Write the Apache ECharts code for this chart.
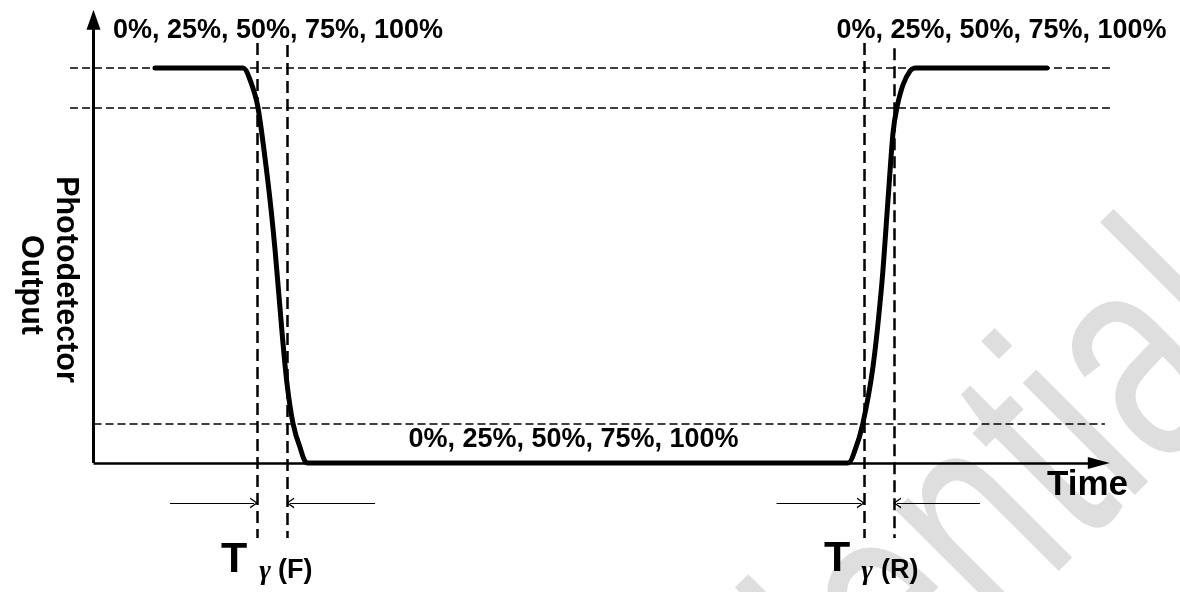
<!DOCTYPE html>
<html>
<head>
<meta charset="utf-8">
<script src="https://cdn.jsdelivr.net/npm/echarts@6/dist/echarts.min.js"></script>
<style>
  html, body { margin: 0; padding: 0; background: #ffffff; }
  #chart { width: 1180px; height: 592px; }
</style>
</head>
<body>
<div id="chart"></div>
<script>
// photodetector response, time in arbitrary units, output normalised 0..1
const signalTime = [6.05, 14.71, 15.4, 16.18, 17.17, 17.86, 18.55, 19.04, 19.63, 20.31, 21.1,
  74.22, 74.88, 75.69, 76.68, 77.56, 78.16, 78.65, 79.04, 79.63, 80.32, 80.81, 93.8];
const signalLevel = [1, 1, 0.97, 0.9, 0.71, 0.54, 0.33, 0.2, 0.1, 0.04, 0,
  0, 0.03, 0.1, 0.243, 0.456, 0.666, 0.835, 0.9, 0.957, 0.992, 1, 1];

// 100%, 90%, 10% reference levels
const levelValues = [1.0, 0.9, 0.1];
const levelStart = [-2.31, -2.31, 0];
const levelEnd = [100, 100, 99.5];

// 10% / 90% crossing marks of the falling and rising edges
const edgeTimes = [16.08, 19.04, 75.8, 78.75];
const edgeTop = [1.063, 1.058, 1.063, 1.05];
const edgeBottom = -0.19;

// span arrows pointing at the edge marks
const spanLevel = -0.101;
const spanFrom = [7.53, 27.7, 67.2, 87.2];
const spanTo = [15.8, 19.34, 75.5, 79.05];

const axisTop = 1.122;
const axisRight = 98.9;

const levelLabel = "0%, 25%, 50%, 75%, 100%";

const signalData = signalTime.map((t, i) => [t, signalLevel[i]]);
const chevron = "path://M0,10 L5,0 L10,10 L8.6,10 L5,2.8 L1.4,10 Z";
const font = "'Liberation Sans', Arial, Helvetica, sans-serif";
const gammaFont = "italic bold 28px 'Liberation Serif', 'DejaVu Serif', serif";

const chart = echarts.init(document.getElementById("chart"));

function marks(name, lines, lineStyle, symbol, symbolSize) {
  return {
    name,
    type: "line",
    data: [],
    silent: true,
    markLine: {
      silent: true,
      animation: false,
      symbol,
      symbolSize,
      label: { show: false },
      lineStyle,
      emphasis: { disabled: true },
      data: lines,
    },
  };
}

const textStyle = (size, extra) => ({
  fill: "#000",
  font: `bold ${size}px ${font}`,
  ...extra,
});

chart.setOption({
  animation: false,
  grid: { left: 63, right: 70, top: 8.75, bottom: 10.5 },
  xAxis: { type: "value", min: -3, max: 100, show: false },
  yAxis: { type: "value", min: -0.3, max: 1.15, show: false },
  graphic: [
    {
      type: "text",
      z: 0,
      silent: true,
      x: 1325,
      y: 400,
      rotation: Math.PI / 4,
      scaleX: 0.72,
      style: {
        text: "Confidential",
        fill: "#dedede",
        font: `300px ${font}`,
        textAlign: "right",
        textVerticalAlign: "bottom",
      },
    },
    { type: "text", z: 100, x: 278, y: 31, style: textStyle(27, { text: levelLabel, textAlign: "center", textVerticalAlign: "middle" }) },
    { type: "text", z: 100, x: 1001.5, y: 31, style: textStyle(27, { text: levelLabel, textAlign: "center", textVerticalAlign: "middle" }) },
    { type: "text", z: 100, x: 573.5, y: 440, style: textStyle(27, { text: levelLabel, textAlign: "center", textVerticalAlign: "middle" }) },
    { type: "text", z: 100, x: 1047, y: 485, style: textStyle(35, { text: "Time", textAlign: "left", textVerticalAlign: "middle" }) },
    {
      type: "text", z: 100, x: 65.5, y: 279.5, rotation: -Math.PI / 2,
      style: textStyle(30.5, { text: "Photodetector", textAlign: "center", textVerticalAlign: "middle" }),
    },
    {
      type: "text", z: 100, x: 30, y: 285, rotation: -Math.PI / 2,
      style: textStyle(30.5, { text: "Output", textAlign: "center", textVerticalAlign: "middle" }),
    },
    { type: "text", z: 100, x: 221, y: 560, style: textStyle(43, { text: "T", textAlign: "left", textVerticalAlign: "middle" }) },
    {
      type: "text", z: 100, x: 265, y: 572,
      style: { text: "γ", fill: "#000", font: gammaFont, textAlign: "center", textVerticalAlign: "middle" },
    },
    { type: "text", z: 100, x: 278, y: 571, style: textStyle(27, { text: "(F)", textAlign: "left", textVerticalAlign: "middle" }) },
    { type: "text", z: 100, x: 824, y: 559, style: textStyle(43, { text: "T", textAlign: "left", textVerticalAlign: "middle" }) },
    {
      type: "text", z: 100, x: 867, y: 572,
      style: { text: "γ", fill: "#000", font: gammaFont, textAlign: "center", textVerticalAlign: "middle" },
    },
    { type: "text", z: 100, x: 881, y: 571, style: textStyle(27, { text: "(R)", textAlign: "left", textVerticalAlign: "middle" }) },
  ],
  series: [
    marks(
      "levels",
      levelValues.map((v, i) => [{ coord: [levelStart[i], v] }, { coord: [levelEnd[i], v] }]),
      { color: "#000", width: 1.5, type: [8, 4] },
      "none",
      0
    ),
    marks(
      "edges",
      edgeTimes.map((t, i) => [{ coord: [t, edgeTop[i]] }, { coord: [t, edgeBottom] }]),
      { color: "#000", width: 2.5, type: [12, 6] },
      "none",
      0
    ),
    marks(
      "spans",
      spanFrom.map((t, i) => [{ coord: [t, spanLevel] }, { coord: [spanTo[i], spanLevel] }]),
      { color: "#000", width: 1, type: "solid" },
      ["none", chevron],
      [11, 8]
    ),
    marks(
      "yAxisLine",
      [[{ coord: [0, 0] }, { coord: [0, axisTop] }]],
      { color: "#000", width: 3, type: "solid" },
      ["none", "triangle"],
      [14, 20]
    ),
    marks(
      "xAxisLine",
      [[{ coord: [0, 0] }, { coord: [axisRight, 0] }]],
      { color: "#000", width: 2.5, type: "solid" },
      ["none", "triangle"],
      [12, 22]
    ),
    {
      name: "signal",
      type: "line",
      z: 5,
      silent: true,
      smooth: 0.25,
      showSymbol: false,
      lineStyle: { color: "#000", width: 5, cap: "round", join: "round" },
      data: signalData,
    },
  ],
});
</script>
</body>
</html>
